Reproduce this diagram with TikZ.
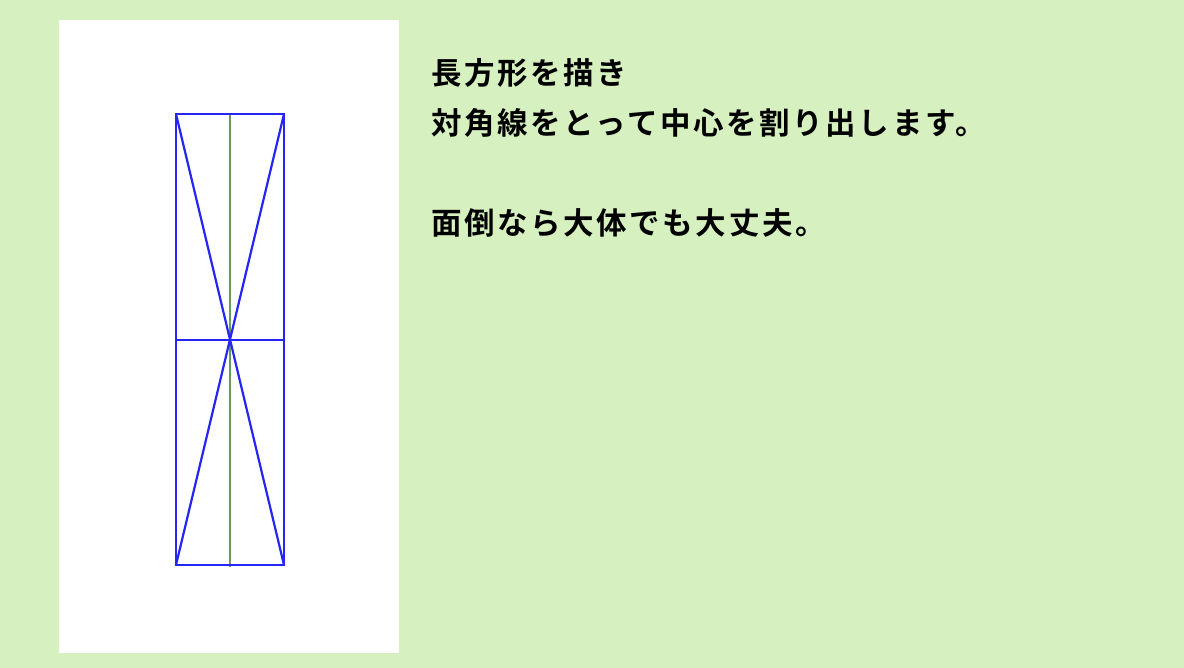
\documentclass[tikz,border=0pt]{standalone}
\usepackage{fontspec}
\newfontfamily\jpfont[LetterSpace=8.5]{Noto Sans CJK JP Bold}
\definecolor{bggreen}{HTML}{D7F0BF}
\definecolor{lineblue}{HTML}{2525F5}
\definecolor{axisgreen}{HTML}{6A9660}
\begin{document}
\begin{tikzpicture}[x=1pt,y=-1pt,
  thinline/.style={draw=lineblue,line width=1.2pt},
  guide/.style={draw=lineblue,line width=2.2pt},
  axis/.style={draw=axisgreen,line width=2.2pt},
  caption/.style={anchor=base west,inner sep=0pt,font=\jpfont\fontsize{30.5}{40}\selectfont,text=black}]
\useasboundingbox (0,0) rectangle (1184,668);
\fill[bggreen] (0,0) rectangle (1184,668);
\fill[white] (59,20) rectangle (399,653);
% rectangle corners
\coordinate (tl) at (176,114);
\coordinate (tr) at (284,114);
\coordinate (bl) at (176,565);
\coordinate (br) at (284,565);
\coordinate (ml) at (176,340);
\coordinate (mr) at (284,340);
\coordinate (tc) at (230,114);
\coordinate (bc) at (230,567);
\draw[axis] (tc) -- (bc);
\draw[guide] (tl) -- (br);
\draw[guide] (tr) -- (bl);
\draw[guide] (ml) -- (mr);
\draw[thinline] (tl) rectangle (br);
\node[caption] (l1) at (431,85) {長方形を描き};
\node[caption] (l2) at (431,135) {対角線をとって中心を割り出します。};
\node[caption] (l3) at (431,235) {面倒なら大体でも大丈夫。};
\end{tikzpicture}
\end{document}
